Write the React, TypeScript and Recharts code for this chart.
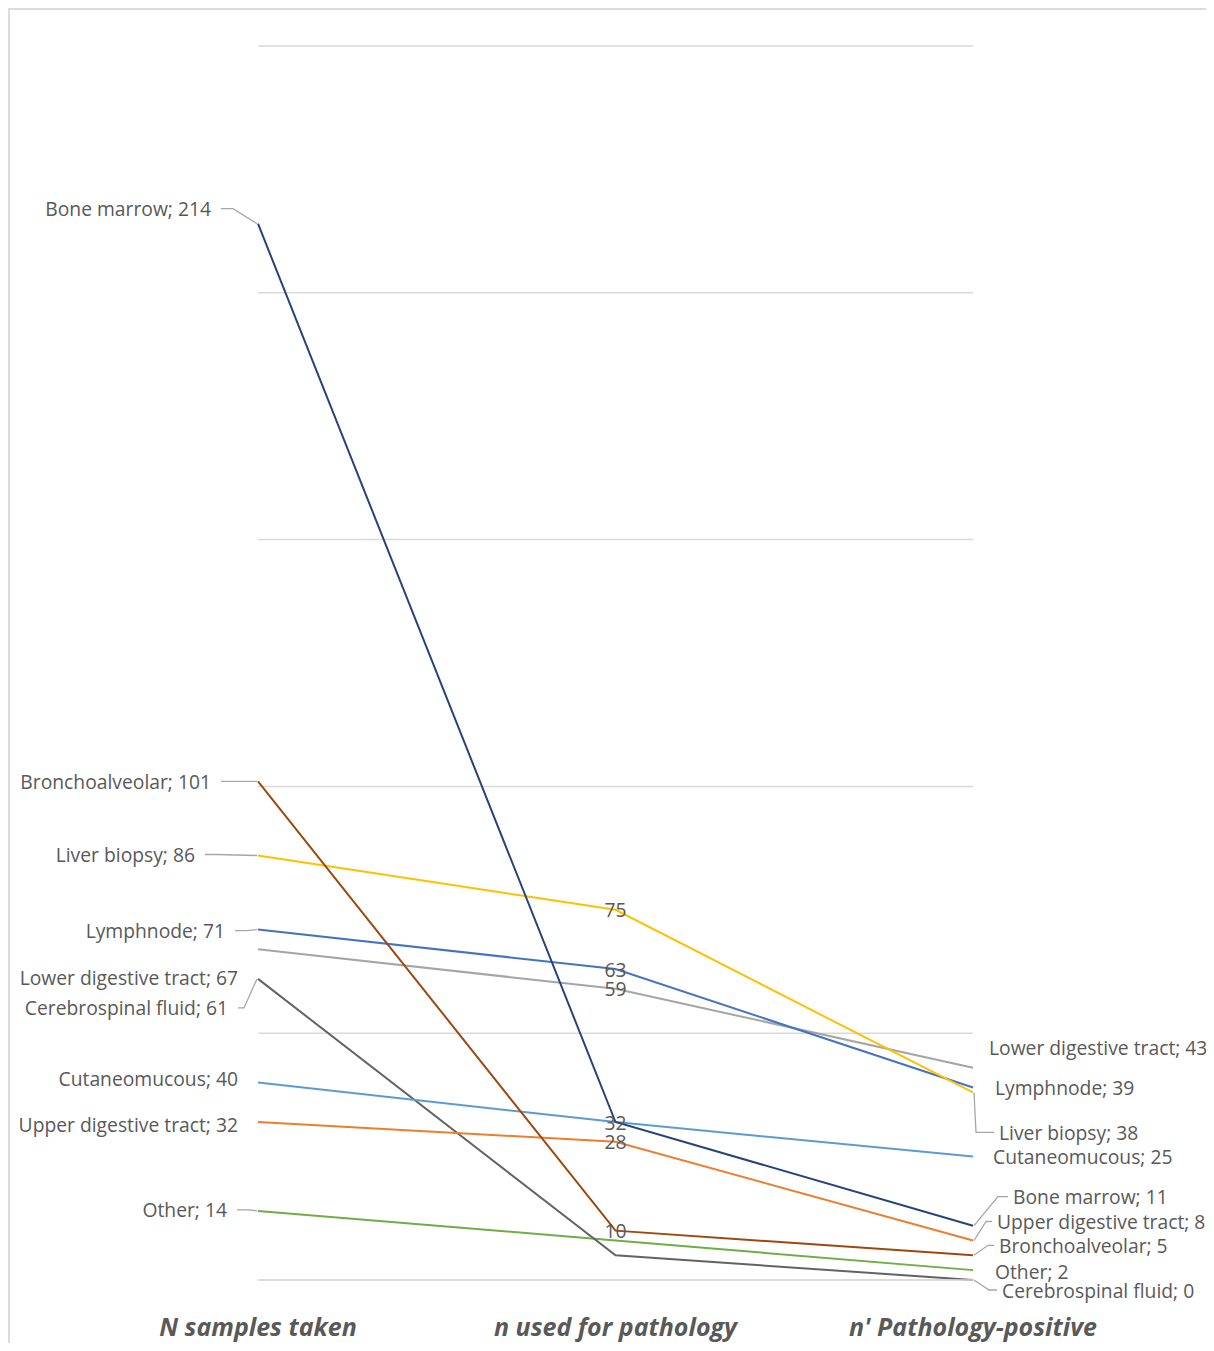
import { LineChart, Line, XAxis, YAxis, CartesianGrid } from "recharts";

const stages = ["N samples taken", "n used for pathology", "n' Pathology-positive"];

const boneMarrow = [214, 32, 11];
const bronchoalveolar = [101, 10, 5];
const liverBiopsy = [86, 75, 38];
const lymphnode = [71, 63, 39];
const lowerDigestive = [67, 59, 43];
const cerebrospinal = [61, 5, 0];
const cutaneomucous = [40, 32, 25];
const upperDigestive = [32, 28, 8];
const other = [14, 8, 2];

const yTicks = [0, 50, 100, 150, 200, 250];

const series = [
  { name: "Other", values: other },
  { name: "Cerebrospinal fluid", values: cerebrospinal },
  { name: "Cutaneomucous", values: cutaneomucous },
  { name: "Upper digestive tract", values: upperDigestive },
  { name: "Lower digestive tract", values: lowerDigestive },
  { name: "Lymphnode", values: lymphnode },
  { name: "Liver biopsy", values: liverBiopsy },
  { name: "Bronchoalveolar", values: bronchoalveolar },
  { name: "Bone marrow", values: boneMarrow },
];

const colors: Record<string, string> = {
  "Bone marrow": "#264478",
  Bronchoalveolar: "#9e480e",
  "Liver biopsy": "#ffc000",
  Lymphnode: "#4472c4",
  "Lower digestive tract": "#a5a5a5",
  "Cerebrospinal fluid": "#636363",
  Cutaneomucous: "#5b9bd5",
  "Upper digestive tract": "#ed7d31",
  Other: "#70ad47",
};

// where the end labels sit relative to their point: [dx, dy, leader line, leader elbow]
type Place = [number, number, boolean, number?];
const placement: Record<string, { left: Place; right: Place; mid: boolean }> = {
  "Bone marrow": { left: [-47, -15, true], right: [40, -29, true, 10], mid: true },
  Bronchoalveolar: { left: [-47, 0, true], right: [26, -10, true, 6], mid: true },
  "Liver biopsy": { left: [-63, -1, true], right: [26, 40, true, 18], mid: true },
  Lymphnode: { left: [-33, 1, true], right: [22, 0, false], mid: true },
  "Lower digestive tract": { left: [-20, 28, false], right: [16, -20, false], mid: true },
  "Cerebrospinal fluid": { left: [-30, 29, true, 6], right: [29, 10, true, 8], mid: false },
  Cutaneomucous: { left: [-20, -4, false], right: [20, 0, false], mid: false },
  "Upper digestive tract": { left: [-20, 2, false], right: [24, -19, true, 6], mid: true },
  Other: { left: [-31, -1, true], right: [22, 1, false], mid: false },
};

const data = stages.map((stage, i) => {
  const row: Record<string, string | number> = { stage };
  series.forEach((s) => (row[s.name] = s.values[i]));
  return row;
});

const textColor = "#595959";
const font = "'Open Sans', sans-serif";
const labelSize = 19.3;

const makeLabel = (name: string) => (props: any) => {
  const { x, y, index, value } = props;
  const p = placement[name];
  if (index === 1) {
    if (!p.mid) return null;
    return (
      <text x={x} y={y} textAnchor="middle" dominantBaseline="central" fill={textColor} fontSize={labelSize} fontFamily={font}>
        {value}
      </text>
    );
  }
  const left = index === 0;
  const [dx, dy, leader, elbow = 12] = left ? p.left : p.right;
  const tx = x + dx;
  const ty = y + dy;
  let path = "";
  if (leader) {
    if (left) {
      const start = tx + 10;
      path = `M${start},${ty} H${Math.min(start + elbow, x - 1)} L${x - 1},${y}`;
    } else {
      const start = tx - 5;
      path = `M${start},${ty} H${Math.max(start - elbow, x + 1)} L${x + 1},${y}`;
    }
  }
  return (
    <g>
      {leader && <path d={path} fill="none" stroke="#a6a6a6" strokeWidth={1.3} />}
      <text
        x={tx}
        y={ty}
        textAnchor={left ? "end" : "start"}
        dominantBaseline="central"
        fill={textColor}
        fontSize={labelSize}
        fontFamily={font}
      >
        {`${name}; ${value}`}
      </text>
    </g>
  );
};

const StageTick = (props: any) => {
  const { x, y, payload } = props;
  return (
    <text
      x={x}
      y={y + 38}
      textAnchor="middle"
      dominantBaseline="central"
      fill={textColor}
      fontSize={25}
      fontWeight="bold"
      fontStyle="italic"
      fontFamily={font}
    >
      {payload.value}
    </text>
  );
};

export default function App() {
  return (
    <div
      style={{
        width: 1204,
        height: 1333,
        borderTop: "2px solid #dcdcdc",
        borderLeft: "2px solid #dcdcdc",
        background: "#fff",
        overflow: "hidden",
      }}
    >
      <LineChart width={1204} height={1333} data={data} margin={{ top: 36, right: 241, left: 248, bottom: 3 }}>
        <CartesianGrid vertical={false} stroke="#d9d9d9" strokeWidth={1.5} />
        <XAxis
          dataKey="stage"
          interval={0}
          tickLine={false}
          axisLine={{ stroke: "#d9d9d9", strokeWidth: 1.5 }}
          tick={<StageTick />}
          height={60}
        />
        <YAxis hide domain={[0, 250]} ticks={yTicks} />
        {series.map((s) => (
          <Line
            key={s.name}
            dataKey={s.name}
            stroke={colors[s.name]}
            strokeWidth={2}
            dot={false}
            type="linear"
            isAnimationActive={false}
            label={makeLabel(s.name)}
          />
        ))}
      </LineChart>
    </div>
  );
}
